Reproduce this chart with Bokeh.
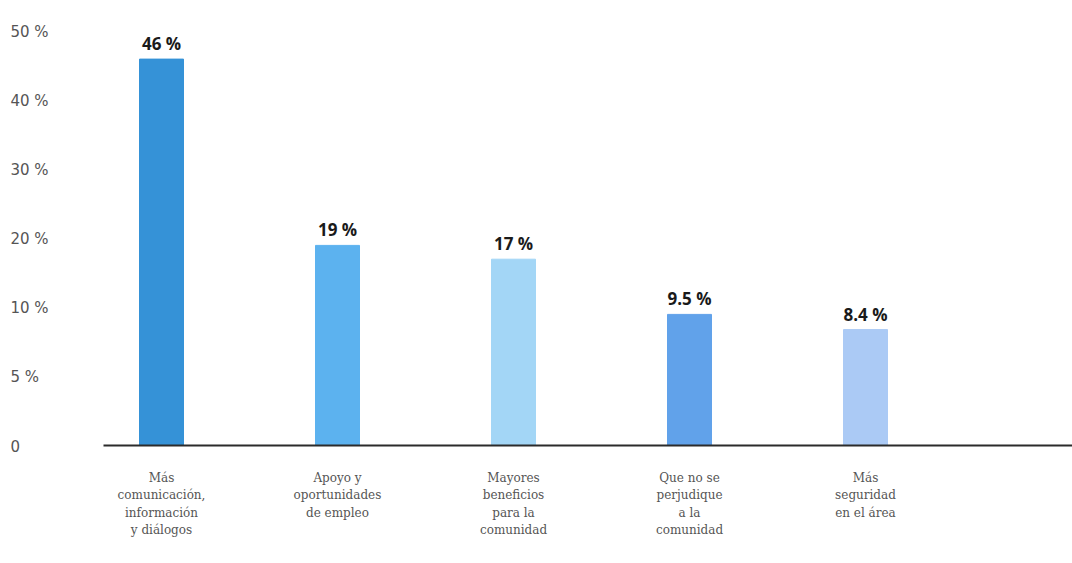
import numpy as np
from bokeh.plotting import figure
from bokeh.models import ColumnDataSource, Range1d
from bokeh.core.properties import value
from bokeh.embed import file_html
from bokeh.resources import INLINE

# ---- data ----
categories = [
    "Más\ncomunicación,\ninformación\ny diálogos",
    "Apoyo y\noportunidades\nde empleo",
    "Mayores\nbeneficios\npara la\ncomunidad",
    "Que no se\nperjudique\na la\ncomunidad",
    "Más\nseguridad\nen el área",
]
values = [46, 19, 17, 9.5, 8.4]
value_labels = ["46 %", "19 %", "17 %", "9.5 %", "8.4 %"]
tick_values = [0, 5, 10, 20, 30, 40, 50]
tick_labels = ["0", "5 %", "10 %", "20 %", "30 %", "40 %", "50 %"]
bar_colors = ["#3592d7", "#5cb2ef", "#a3d6f6", "#61a2ea", "#abcaf5"]

# ---- layout ----
W, H = 1072, 560
PX_X = 176.0          # px per category slot
PX_Y = 69.0           # px per tick step (the original axis is evenly spaced per tick)
BASE = 445            # baseline, px from top
x_start = -161 / PX_X
x_end = x_start + W / PX_X
y_start = -(H - BASE) / PX_Y
y_end = BASE / PX_Y

# piecewise axis: each labelled tick is one equal step
tick_pos = np.arange(len(tick_values), dtype=float)
xs = np.arange(len(categories), dtype=float)
tops = np.interp(values, tick_values, tick_pos)

src = ColumnDataSource(dict(x=xs, top=tops, color=bar_colors, lab=value_labels, cat=categories))

p = figure(width=W, height=H, output_backend="svg", toolbar_location=None,
           x_axis_type=None, y_axis_type=None,
           x_range=Range1d(x_start, x_end), y_range=Range1d(y_start, y_end),
           min_border=0, outline_line_color=None, background_fill_color="white")
p.xgrid.visible = False
p.ygrid.visible = False

p.vbar(x="x", top="top", bottom=0, width=44 / PX_X, color="color", source=src)

# value labels
p.text(x="x", y="top", text="lab", source=src, text_align="center", text_baseline="bottom",
       y_offset=-4, text_font=value("Open Sans"), text_font_style="bold",
       text_font_size="17px", text_color="#1a1a1a")

# baseline
p.segment(x0=[x_start + 103 / PX_X], y0=[0], x1=[x_end], y1=[0],
          line_color="#2b2b2b", line_width=2)

# y tick labels
p.text(x=[x_start + 10 / PX_X] * len(tick_pos), y=tick_pos, text=tick_labels,
       text_align="left", text_baseline="middle", y_offset=0,
       text_font=value("DejaVu Sans"), text_font_size="15px", text_color="#555555")

# category labels
p.text(x="x", y=-25 / PX_Y, text="cat", source=src, text_align="center",
       text_baseline="top", text_font=value("DejaVu Serif"),
       text_font_size="12px", text_line_height=1.25, text_color="#555555")

open("out.html", "w").write(file_html(p, INLINE))
